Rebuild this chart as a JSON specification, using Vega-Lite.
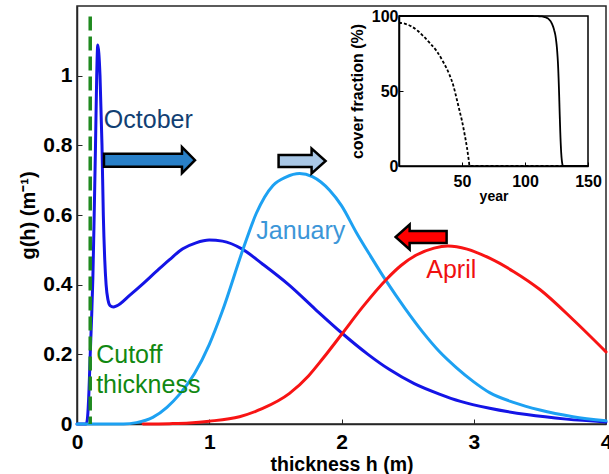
{
  "$schema": "https://vega.github.io/schema/vega-lite/v6.json",
  "width": 529,
  "height": 418,
  "autosize": {"type": "none"},
  "padding": {"left": 77, "top": 6, "right": 3, "bottom": 50},
  "background": "white",
  "config": {
    "view": {"stroke": "#262626", "strokeWidth": 1.5},
    "font": "Liberation Sans",
    "axis": {
      "labelFont": "Liberation Sans",
      "titleFont": "Liberation Sans",
      "labelFontWeight": "bold",
      "titleFontWeight": "bold",
      "labelColor": "#000",
      "titleColor": "#000",
      "domainColor": "#262626",
      "tickColor": "#262626",
      "domainWidth": 1.5,
      "tickWidth": 1,
      "grid": false,
      "labelFlush": false,
      "labelOverlap": false,
      "labelBound": false
    }
  },
  "datasets": {
    "dist": [
      {"month": "October", "h": 0, "g": 0},
      {"month": "October", "h": 0.07, "g": 0},
      {"month": "October", "h": 0.08, "g": 0.02},
      {"month": "October", "h": 0.09, "g": 0.09},
      {"month": "October", "h": 0.1, "g": 0.2},
      {"month": "October", "h": 0.11, "g": 0.3},
      {"month": "October", "h": 0.12, "g": 0.42},
      {"month": "October", "h": 0.13, "g": 0.6},
      {"month": "October", "h": 0.14, "g": 0.8},
      {"month": "October", "h": 0.149, "g": 1.0},
      {"month": "October", "h": 0.157, "g": 1.088},
      {"month": "October", "h": 0.165, "g": 1.065},
      {"month": "October", "h": 0.174, "g": 1.0},
      {"month": "October", "h": 0.189, "g": 0.8},
      {"month": "October", "h": 0.199, "g": 0.6},
      {"month": "October", "h": 0.21, "g": 0.47},
      {"month": "October", "h": 0.22, "g": 0.4},
      {"month": "October", "h": 0.235, "g": 0.355},
      {"month": "October", "h": 0.25, "g": 0.34},
      {"month": "October", "h": 0.275, "g": 0.336},
      {"month": "October", "h": 0.3, "g": 0.339},
      {"month": "October", "h": 0.4, "g": 0.37},
      {"month": "October", "h": 0.5, "g": 0.403},
      {"month": "October", "h": 0.6, "g": 0.438},
      {"month": "October", "h": 0.7, "g": 0.472},
      {"month": "October", "h": 0.8, "g": 0.503},
      {"month": "October", "h": 0.9, "g": 0.52},
      {"month": "October", "h": 1.0, "g": 0.528},
      {"month": "October", "h": 1.1, "g": 0.525},
      {"month": "October", "h": 1.25, "g": 0.502},
      {"month": "October", "h": 1.4, "g": 0.46},
      {"month": "October", "h": 1.6, "g": 0.4},
      {"month": "October", "h": 1.8, "g": 0.33},
      {"month": "October", "h": 2.0, "g": 0.262},
      {"month": "October", "h": 2.2, "g": 0.2},
      {"month": "October", "h": 2.36, "g": 0.157},
      {"month": "October", "h": 2.55, "g": 0.116},
      {"month": "October", "h": 2.74, "g": 0.086},
      {"month": "October", "h": 2.9, "g": 0.065},
      {"month": "October", "h": 3.12, "g": 0.045},
      {"month": "October", "h": 3.4, "g": 0.027},
      {"month": "October", "h": 3.7, "g": 0.014},
      {"month": "October", "h": 4.0, "g": 0.006},
      {"month": "January", "h": 0, "g": 0},
      {"month": "January", "h": 0.35, "g": 0},
      {"month": "January", "h": 0.45, "g": 0.004},
      {"month": "January", "h": 0.573, "g": 0.019},
      {"month": "January", "h": 0.68, "g": 0.048},
      {"month": "January", "h": 0.775, "g": 0.085},
      {"month": "January", "h": 0.889, "g": 0.145},
      {"month": "January", "h": 1.0, "g": 0.228},
      {"month": "January", "h": 1.1, "g": 0.325},
      {"month": "January", "h": 1.254, "g": 0.5},
      {"month": "January", "h": 1.356, "g": 0.605},
      {"month": "January", "h": 1.482, "g": 0.685},
      {"month": "January", "h": 1.58, "g": 0.709},
      {"month": "January", "h": 1.683, "g": 0.719},
      {"month": "January", "h": 1.78, "g": 0.71},
      {"month": "January", "h": 1.91, "g": 0.671},
      {"month": "January", "h": 2.0, "g": 0.627},
      {"month": "January", "h": 2.112, "g": 0.55},
      {"month": "January", "h": 2.22, "g": 0.482},
      {"month": "January", "h": 2.339, "g": 0.41},
      {"month": "January", "h": 2.48, "g": 0.332},
      {"month": "January", "h": 2.616, "g": 0.263},
      {"month": "January", "h": 2.74, "g": 0.208},
      {"month": "January", "h": 2.868, "g": 0.162},
      {"month": "January", "h": 3.0, "g": 0.121},
      {"month": "January", "h": 3.12, "g": 0.09},
      {"month": "January", "h": 3.3, "g": 0.062},
      {"month": "January", "h": 3.5, "g": 0.04},
      {"month": "January", "h": 3.75, "g": 0.021},
      {"month": "January", "h": 4.0, "g": 0.009},
      {"month": "April", "h": 0.5, "g": 0},
      {"month": "April", "h": 0.7, "g": 0.001},
      {"month": "April", "h": 0.851, "g": 0.003},
      {"month": "April", "h": 1.0, "g": 0.008},
      {"month": "April", "h": 1.229, "g": 0.021},
      {"month": "April", "h": 1.4, "g": 0.044},
      {"month": "April", "h": 1.607, "g": 0.088},
      {"month": "April", "h": 1.75, "g": 0.138},
      {"month": "April", "h": 1.859, "g": 0.188},
      {"month": "April", "h": 2.0, "g": 0.257},
      {"month": "April", "h": 2.162, "g": 0.337},
      {"month": "April", "h": 2.339, "g": 0.415},
      {"month": "April", "h": 2.45, "g": 0.455},
      {"month": "April", "h": 2.566, "g": 0.485},
      {"month": "April", "h": 2.7, "g": 0.505},
      {"month": "April", "h": 2.805, "g": 0.511},
      {"month": "April", "h": 2.95, "g": 0.502},
      {"month": "April", "h": 3.12, "g": 0.476},
      {"month": "April", "h": 3.3, "g": 0.438},
      {"month": "April", "h": 3.5, "g": 0.386},
      {"month": "April", "h": 3.75, "g": 0.3},
      {"month": "April", "h": 4.0, "g": 0.207}
    ],
    "cover": [
      {"run": "solid", "year": 0, "cover": 100},
      {"run": "solid", "year": 105, "cover": 100},
      {"run": "solid", "year": 112, "cover": 99.8},
      {"run": "solid", "year": 116, "cover": 99.2},
      {"run": "solid", "year": 119, "cover": 97.8},
      {"run": "solid", "year": 121, "cover": 95.5},
      {"run": "solid", "year": 123, "cover": 91},
      {"run": "solid", "year": 124.5, "cover": 85},
      {"run": "solid", "year": 125.5, "cover": 77},
      {"run": "solid", "year": 126.3, "cover": 66},
      {"run": "solid", "year": 127, "cover": 50},
      {"run": "solid", "year": 127.6, "cover": 33},
      {"run": "solid", "year": 128.2, "cover": 18},
      {"run": "solid", "year": 128.8, "cover": 8},
      {"run": "solid", "year": 129.5, "cover": 2},
      {"run": "solid", "year": 130.2, "cover": 0},
      {"run": "solid", "year": 150, "cover": 0},
      {"run": "dashed", "year": 0, "cover": 95.5},
      {"run": "dashed", "year": 5, "cover": 94.8},
      {"run": "dashed", "year": 10, "cover": 93},
      {"run": "dashed", "year": 15, "cover": 90},
      {"run": "dashed", "year": 20, "cover": 86},
      {"run": "dashed", "year": 25, "cover": 81.5},
      {"run": "dashed", "year": 30, "cover": 76.5},
      {"run": "dashed", "year": 35, "cover": 69.5},
      {"run": "dashed", "year": 40, "cover": 61},
      {"run": "dashed", "year": 43, "cover": 54},
      {"run": "dashed", "year": 46, "cover": 44},
      {"run": "dashed", "year": 48, "cover": 37},
      {"run": "dashed", "year": 50, "cover": 30},
      {"run": "dashed", "year": 52, "cover": 21.5},
      {"run": "dashed", "year": 54, "cover": 12},
      {"run": "dashed", "year": 55.5, "cover": 3},
      {"run": "dashed", "year": 56, "cover": 0},
      {"run": "dashed", "year": 150, "cover": 0}
    ]
  },
  "layer": [
    {
      "layer": [
        {
          "data": {"name": "dist"},
          "mark": {"type": "line", "strokeWidth": 3, "strokeCap": "round", "strokeJoin": "round", "interpolate": "monotone"},
          "encoding": {
            "x": {
              "field": "h", "type": "quantitative",
              "scale": {"domain": [0, 4], "nice": false, "zero": false},
              "axis": {
                "values": [0, 1, 2, 3, 4],
                "format": "d",
                "title": "thickness h (m)",
                "labelFontSize": 21,
                "titleFontSize": 19.5,
                "tickSize": -5,
                "labelPadding": 12,
                "titlePadding": 3
              }
            },
            "y": {
              "field": "g", "type": "quantitative",
              "scale": {"domain": [0, 1.2], "nice": false, "zero": false},
              "axis": {
                "values": [0, 0.2, 0.4, 0.6, 0.8, 1],
                "format": "~g",
                "title": "g(h) (m⁻¹)",
                "labelFontSize": 21,
                "titleFontSize": 20,
                "tickSize": -5,
                "labelPadding": 10,
                "titlePadding": 4
              }
            },
            "color": {
              "field": "month", "type": "nominal",
              "scale": {"domain": ["October", "January", "April"], "range": ["#1414E6", "#1DA1F2", "#F81414"]},
              "legend": null
            }
          }
        },
        {
          "data": {"values": [{}]},
          "mark": {"type": "rule", "color": "#1F8A1F", "strokeWidth": 3.5, "strokeDash": [14, 6]},
          "encoding": {
            "x": {"datum": 0.1, "type": "quantitative"},
            "y": {"datum": 1.17, "type": "quantitative"},
            "y2": {"datum": 0}
          }
        },
        {
          "data": {"values": [{}]},
          "mark": {"type": "text", "text": "October", "align": "left", "baseline": "alphabetic", "fontSize": 25, "font": "Liberation Sans", "color": "#123F73"},
          "encoding": {"x": {"datum": 0.203, "type": "quantitative"}, "y": {"datum": 0.85, "type": "quantitative"}}
        },
        {
          "data": {"values": [{}]},
          "mark": {"type": "text", "text": "January", "align": "left", "baseline": "alphabetic", "fontSize": 25, "font": "Liberation Sans", "color": "#3C96D8"},
          "encoding": {"x": {"datum": 1.356, "type": "quantitative"}, "y": {"datum": 0.531, "type": "quantitative"}}
        },
        {
          "data": {"values": [{}]},
          "mark": {"type": "text", "text": "April", "align": "left", "baseline": "alphabetic", "fontSize": 25, "font": "Liberation Sans", "color": "#F01010"},
          "encoding": {"x": {"datum": 2.641, "type": "quantitative"}, "y": {"datum": 0.418, "type": "quantitative"}}
        },
        {
          "data": {"values": [{}]},
          "mark": {"type": "text", "text": "Cutoff", "align": "left", "baseline": "alphabetic", "fontSize": 25, "font": "Liberation Sans", "color": "#118811"},
          "encoding": {"x": {"datum": 0.145, "type": "quantitative"}, "y": {"datum": 0.174, "type": "quantitative"}}
        },
        {
          "data": {"values": [{}]},
          "mark": {"type": "text", "text": "thickness", "align": "left", "baseline": "alphabetic", "fontSize": 25, "font": "Liberation Sans", "color": "#118811"},
          "encoding": {"x": {"datum": 0.145, "type": "quantitative"}, "y": {"datum": 0.088, "type": "quantitative"}}
        },
        {
          "data": {"values": [{}]},
          "mark": {"type": "point", "shape": "M-1,-0.143L0.714,-0.143L0.714,-0.286L1,0L0.714,0.286L0.714,0.143L-1,0.143Z", "size": 8281, "filled": true, "fill": "#2980C8", "stroke": "#000", "strokeWidth": 2.5, "opacity": 1, "strokeJoin": "miter"},
          "encoding": {"x": {"datum": 0.548, "type": "quantitative"}, "y": {"datum": 0.7575, "type": "quantitative"}}
        },
        {
          "data": {"values": [{}]},
          "mark": {"type": "point", "shape": "M-1,-0.255L0.404,-0.255L0.404,-0.532L1,0L0.404,0.532L0.404,0.255L-1,0.255Z", "size": 2209, "filled": true, "fill": "#AAC8E6", "stroke": "#000", "strokeWidth": 2.5, "opacity": 1, "strokeJoin": "miter"},
          "encoding": {"x": {"datum": 1.702, "type": "quantitative"}, "y": {"datum": 0.755, "type": "quantitative"}}
        },
        {
          "data": {"values": [{}]},
          "mark": {"type": "point", "shape": "M1,-0.235L-0.45,-0.235L-0.45,-0.49L-1,0L-0.45,0.49L-0.45,0.235L1,0.235Z", "size": 2601, "filled": true, "fill": "#FF0000", "stroke": "#000", "strokeWidth": 2.5, "opacity": 1, "strokeJoin": "miter"},
          "encoding": {"x": {"datum": 2.602, "type": "quantitative"}, "y": {"datum": 0.537, "type": "quantitative"}}
        }
      ]
    },
    {
      "layer": [
        {
          "data": {"values": [{}]},
          "mark": {"type": "rect", "fill": "#FFFFFF", "stroke": "#000", "strokeWidth": 1.5},
          "encoding": {
            "x": {"datum": 0, "type": "quantitative"},
            "x2": {"datum": 150},
            "y": {"datum": 0, "type": "quantitative"},
            "y2": {"datum": 100}
          }
        },
        {
          "data": {"name": "cover"},
          "mark": {"type": "line", "color": "#000", "strokeWidth": 1.8, "interpolate": "monotone"},
          "encoding": {
            "x": {
              "field": "year", "type": "quantitative",
              "scale": {"domain": [0, 150], "range": [322, 511], "nice": false, "zero": false},
              "axis": {
                "orient": "bottom",
                "offset": -258,
                "values": [50, 100, 150],
                "title": "year",
                "labelFontSize": 16,
                "titleFontSize": 14,
                "tickSize": -4,
                "labelPadding": 11,
                "titlePadding": 0,
                "domainColor": "#000",
                "tickColor": "#000",
                "zindex": 1
              }
            },
            "y": {
              "field": "cover", "type": "quantitative",
              "scale": {"domain": [0, 100], "range": [160, 10], "nice": false, "zero": false},
              "axis": {
                "orient": "left",
                "offset": -322,
                "values": [0, 50, 100],
                "title": "cover fraction (%)",
                "labelFontSize": 16,
                "titleFontSize": 16,
                "tickSize": -4,
                "labelPadding": 5,
                "titlePadding": 6,
                "domainColor": "#000",
                "tickColor": "#000",
                "zindex": 1
              }
            },
            "strokeDash": {
              "field": "run", "type": "nominal",
              "scale": {"domain": ["solid", "dashed"], "range": [[1, 0], [3, 2]]},
              "legend": null
            }
          }
        }
      ]
    }
  ],
  "resolve": {"scale": {"x": "independent", "y": "independent"}}
}
